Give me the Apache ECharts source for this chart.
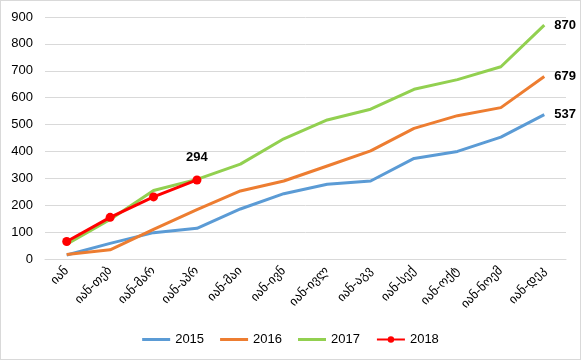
<!DOCTYPE html>
<html><head><meta charset="utf-8">
<script src="https://cdn.jsdelivr.net/npm/echarts@6/dist/echarts.min.js"></script>
<style>html,body{margin:0;padding:0;background:#fff}#c{width:581px;height:360px;box-sizing:border-box;border:1px solid #d9d9d9}</style>
</head><body><div id="c"></div>
<script>
const categories = ["იან","იან-თებ","იან-მარ","იან-აპრ","იან-მაი","იან-ივნ","იან-ივლ","იან-აგვ","იან-სექ","იან-ოქტ","იან-ნოემ","იან-დეკ"];
const s2015 = [15,58,98,114,186,243,278,290,374,400,453,537];
const s2016 = [17,34,110,184,253,290,346,402,486,533,563,679];
const s2017 = [55,147,255,296,353,447,517,557,631,667,715,870];
const s2018 = [65,155,231,294];
const yTicks = [0,100,200,300,400,500,600,700,800,900];

const chart = echarts.init(document.getElementById('c'));
const lblFont = {fontWeight:'bold', fontSize:13, color:'#000', fontFamily:'Liberation Sans'};
function mk(name, data, color){
  return {name, type:'line', data, symbol:'none', lineStyle:{width:3,color}, itemStyle:{color},
    endLabel:Object.assign({show:true, distance:10, formatter:p=>p.value}, lblFont)};
}
const lineIcon = 'path://M0,0H28V3H0Z';
chart.setOption({
  animation:false,
  grid:{left:44, right:14, top:16, bottom:100},
  legend:{bottom:8, left:'center', itemWidth:28, itemHeight:8, itemGap:16,
    textStyle:{fontSize:13, color:'#000', fontFamily:'Liberation Sans'},
    data:[{name:'2015', icon:lineIcon},{name:'2016', icon:lineIcon},{name:'2017', icon:lineIcon},{name:'2018'}]},
  xAxis:{type:'category', data:categories, boundaryGap:true,
    axisLine:{show:true, lineStyle:{color:'#d9d9d9'}}, axisTick:{show:false},
    axisLabel:{rotate:45, fontSize:12.5, color:'#000', fontFamily:'DejaVu Sans', margin:10, interval:0}},
  yAxis:{type:'value', min:yTicks[0], max:yTicks[yTicks.length-1], interval:100,
    axisLine:{show:false}, axisTick:{show:false},
    splitLine:{lineStyle:{color:'#d9d9d9'}},
    axisLabel:{fontSize:13, color:'#000', fontFamily:'Liberation Sans', margin:12}},
  series:[
    mk('2015', s2015, '#5b9bd5'),
    mk('2016', s2016, '#ed7d31'),
    mk('2017', s2017, '#92d050'),
    {name:'2018', type:'line', data:s2018, symbol:'circle', symbolSize:9, lineStyle:{width:3,color:'#ff0000'}, itemStyle:{color:'#ff0000'},
      label:Object.assign({show:true, position:'top', distance:12, formatter:p => p.dataIndex === s2018.length-1 ? p.value : ''}, lblFont)}
  ]
});
</script></body></html>
